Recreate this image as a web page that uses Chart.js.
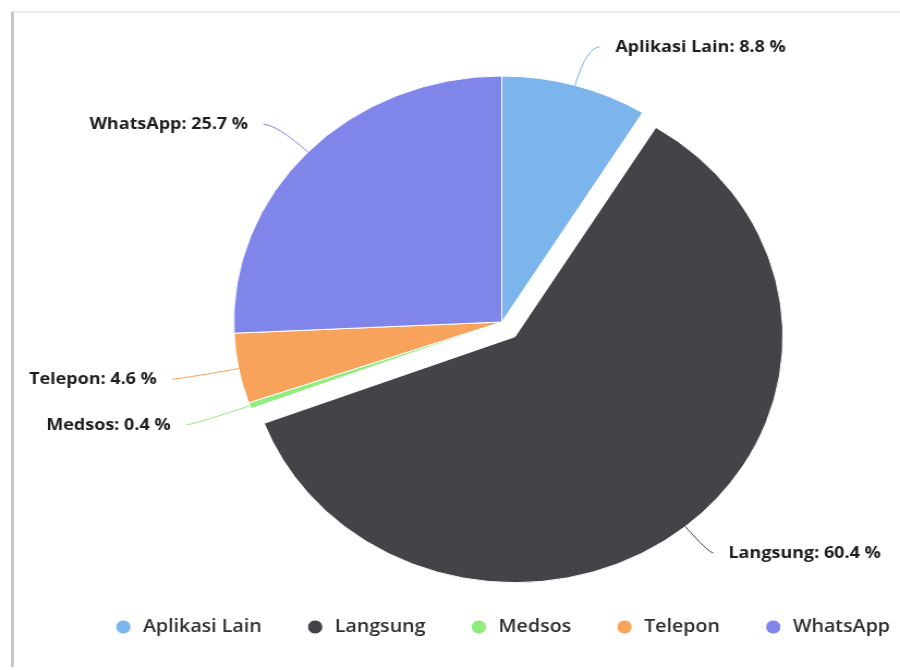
<!DOCTYPE html>
<html>
<head>
<meta charset="utf-8">
<script src="https://cdn.jsdelivr.net/npm/chart.js@4.4.1/dist/chart.umd.min.js"></script>
<style>
  html, body { margin: 0; padding: 0; background: #fff; overflow: hidden; }
  body { width: 900px; height: 670px; position: relative; }
  .frame {
    position: absolute; left: 11px; top: 11px; width: 900px; height: 654px;
    border-left: 3px solid #c6c6c6; border-top: 2px solid #ececec;
  }
  /* the reference is a bit wider than tall, so the whole chart is stretched */
  .stretch {
    position: absolute; left: 0; top: 0; width: 921px; height: 670px;
    transform: scaleX(1.0896); transform-origin: 0 0;
  }
</style>
</head>
<body>
<div class="frame"></div>
<div class="stretch"><canvas id="pie"></canvas></div>
<script>
const categories = ['Aplikasi Lain', 'Langsung', 'Medsos', 'Telepon', 'WhatsApp'];
const shares = [8.8, 60.4, 0.4, 4.6, 25.7];
const colors = ['#7cb5ec', '#434348', '#90ed7d', '#f7a35c', '#8085e9'];
const slicedIndex = 1;   // Langsung is pulled out
const sliceGap = 19;

// label layout, per slice: distance out from the edge, short horizontal stub
const labelDistance = [40, 34, 56, 56, 40];
const labelStub = [12, 4, 6, 6, 12];

function centerOf(arc, i) {
  const mid = (arc.startAngle + arc.endAngle) / 2;
  const off = i === slicedIndex ? sliceGap : 0;
  return { x: arc.x + Math.cos(mid) * off, y: arc.y + Math.sin(mid) * off, mid };
}

// move the sliced arc out while the dataset is drawn
const sliceOut = {
  id: 'sliceOut',
  beforeDatasetDraw(chart) {
    const arc = chart.getDatasetMeta(0).data[slicedIndex];
    const c = centerOf(arc, slicedIndex);
    arc._home = [arc.x, arc.y];
    arc.x = c.x;
    arc.y = c.y;
  },
  afterDatasetDraw(chart) {
    const arc = chart.getDatasetMeta(0).data[slicedIndex];
    [arc.x, arc.y] = arc._home;
  }
};

// data labels with connectors, like the original
const pieLabels = {
  id: 'pieLabels',
  afterDatasetsDraw(chart) {
    const ctx = chart.ctx;
    const arcs = chart.getDatasetMeta(0).data;
    ctx.save();
    ctx.font = 'bold 16.5px "Open Sans", sans-serif';
    ctx.textBaseline = 'middle';
    arcs.forEach((arc, i) => {
      const c = centerOf(arc, i);
      const r = arc.outerRadius;
      const d = labelDistance[i];
      const cos = Math.cos(c.mid), sin = Math.sin(c.mid);
      const right = cos >= 0;
      const p0 = { x: c.x + cos * r, y: c.y + sin * r };
      const p1 = { x: c.x + cos * (r + d), y: c.y + sin * (r + d) };
      const end = { x: p1.x + (right ? labelStub[i] : -labelStub[i]), y: p1.y };
      ctx.strokeStyle = colors[i];
      ctx.lineWidth = 1;
      ctx.beginPath();
      ctx.moveTo(p0.x, p0.y);
      ctx.quadraticCurveTo(p1.x, p1.y, end.x, end.y);
      ctx.stroke();
      ctx.fillStyle = '#1e1e1e';
      ctx.textAlign = right ? 'left' : 'right';
      ctx.fillText(categories[i] + ': ' + shares[i].toFixed(1) + ' %', end.x + (right ? 14 : -14), end.y);
    });
    ctx.restore();
  }
};

new Chart(document.getElementById('pie'), {
  type: 'pie',
  data: {
    labels: categories,
    datasets: [{
      data: shares,
      backgroundColor: colors,
      borderColor: '#ffffff',
      borderWidth: 1,
      radius: 246
    }]
  },
  options: {
    responsive: true,
    maintainAspectRatio: false,
    animation: false,
    layout: { padding: { top: 66, bottom: 24, left: 0, right: 0 } },
    plugins: {
      tooltip: { enabled: false },
      legend: {
        position: 'bottom',
        labels: {
          usePointStyle: true,
          pointStyle: 'circle',
          boxWidth: 18,
          boxHeight: 10,
          padding: 40,
          color: '#2e2e2e',
          font: { family: '"Open Sans", sans-serif', size: 18, weight: '600' }
        }
      }
    }
  },
  plugins: [sliceOut, pieLabels]
});
</script>
</body>
</html>
